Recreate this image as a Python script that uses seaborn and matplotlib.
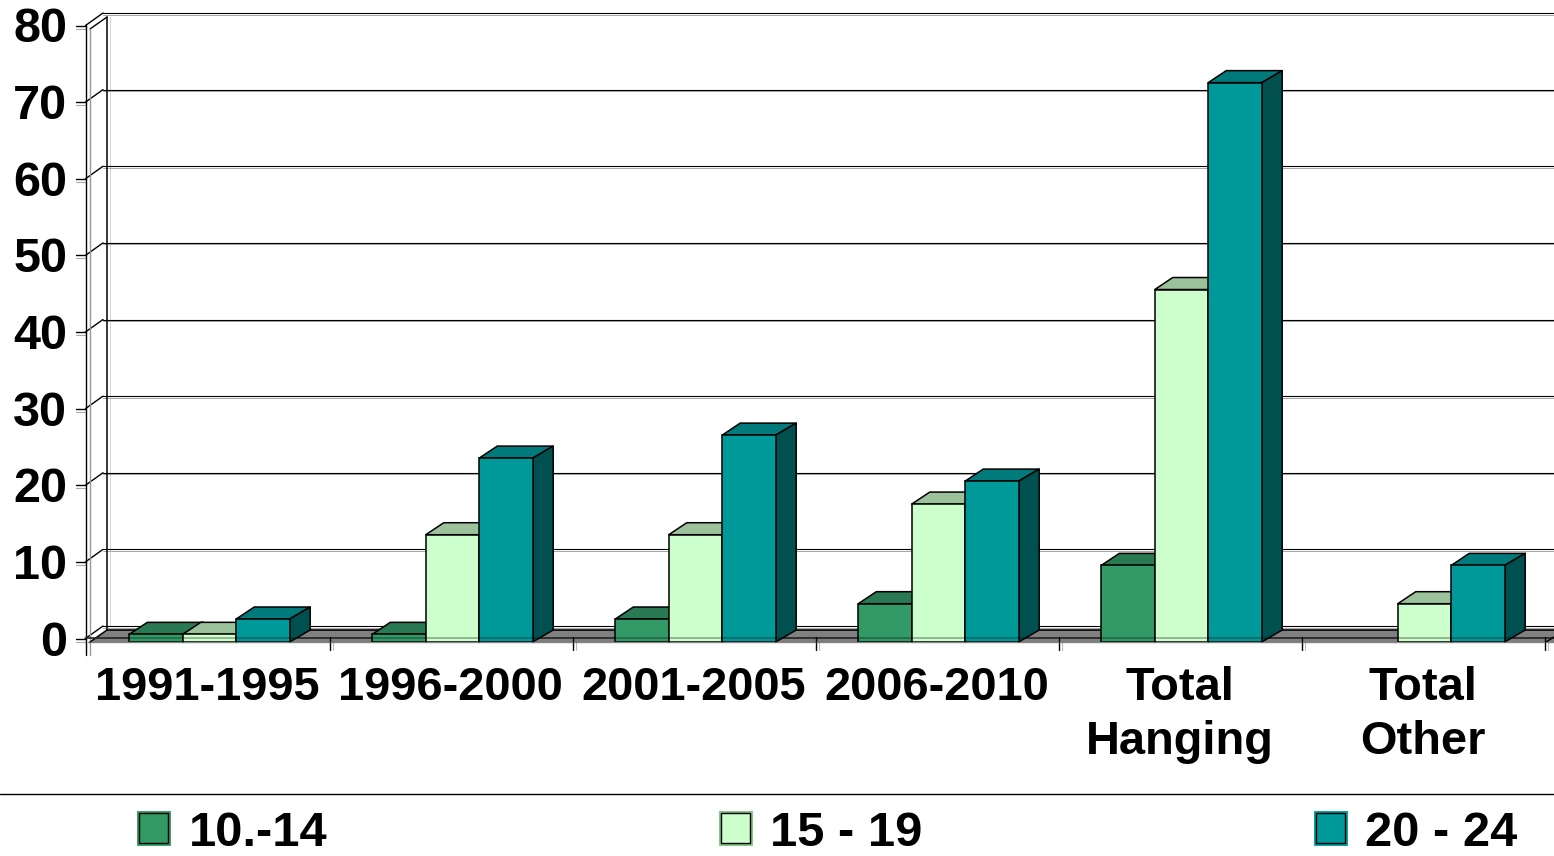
import matplotlib
matplotlib.use("Agg")
import matplotlib.pyplot as plt
import matplotlib.patheffects as pe
from matplotlib.lines import Line2D
from matplotlib.patches import Patch, Polygon
from matplotlib.transforms import IdentityTransform, ScaledTranslation
import pandas as pd
import seaborn as sns

categories = ["1991-1995", "1996-2000", "2001-2005", "2006-2010", "Total\nHanging", "Total\nOther"]
ages = ["10.-14", "15 - 19", "20 - 24"]
age_10_14 = [1, 1, 3, 5, 10, 0]
age_15_19 = [1, 14, 14, 18, 46, 5]
age_20_24 = [3, 24, 27, 21, 73, 10]
y_ticks = [0, 10, 20, 30, 40, 50, 60, 70, 80]
front_colors = ["#339966", "#CCFFCC", "#009999"]
top_colors = ["#297A52", "#9CC29C", "#007A7A"]
side_colors = ["#1F5C3D", "#7FA37F", "#005050"]

sns.set_theme(style="white")
plt.rcParams["font.family"] = ["Liberation Sans", "DejaVu Sans"]
plt.rcParams["font.weight"] = "bold"

W, H = 1554, 856
FS_X, FS_Y, FS_L = 33.8, 35, 35.2
df = pd.DataFrame({
    "period": categories * 3,
    "age": [a for a in ages for _ in categories],
    "value": age_10_14 + age_15_19 + age_20_24,
})

fig = plt.figure(figsize=(W / 100, H / 100), dpi=100, facecolor="white")
ax = fig.add_axes([88 / W, (H - 642) / H, 1458 / W, 613 / H])
sns.barplot(data=df, x="period", y="value", hue="age", hue_order=ages, order=categories,
            palette=front_colors, saturation=1, width=0.66, gap=0, dodge=True,
            edgecolor="black", linewidth=1.1, legend=False, ax=ax)
ax.set_xlim(-0.5, 5.5)
ax.set_ylim(0, 80)
ax.set_xlabel("")
ax.set_ylabel("")
ax.patch.set_alpha(0)
for s in ax.spines.values():
    s.set_visible(False)

ID = IdentityTransform()


def P(px, py):
    return (px, H - py)


def line(xs, ys, color="black", lw=1.0, z=1, alpha=1.0):
    ax.add_line(Line2D(xs, [H - y for y in ys], color=color, lw=lw, transform=ID,
                       clip_on=False, zorder=z, alpha=alpha))


def poly(points, face, edge="black", lw=1.1, z=1):
    ax.add_patch(Polygon(points, closed=True, facecolor=face, edgecolor=edge, lw=lw,
                         transform=ID, clip_on=False, zorder=z, joinstyle="round"))


# floor and walls
poly([P(90, 642), P(107, 630), P(1554, 630), P(1554, 642)], "#808080", edge="none", z=0.5)
line([107, 1554], [630, 630], "black", 1.2, 0.6)


def front_py(v):
    return H - ax.transData.transform((0, v))[1]


for v in y_ticks:
    py = front_py(v)
    back = py - 16
    line([103, 1554], [back, back], "black", 0.8, 0.7)
    line([103, 1554], [back + 1.5, back + 1.5], "#999999", 0.6, 0.65)
    line([85.5, 103], [py - 3.5, back], "black", 1.0, 0.7)
    line([76, 85.5], [py - 3.5, py - 3.5], "black", 1.0, 0.7)
    line([76, 85.5], [py - 0.5, py - 0.5], "#aaaaaa", 0.8, 0.65)

top = front_py(80)
line([107, 107], [top - 12, 630], "black", 1.1, 0.8)
line([110, 110], [top - 12, 626], "#cccccc", 0.6, 0.6)
line([90, 107], [top, top - 12], "black", 1.0, 0.8)
line([90, 90], [top, 655], "#999999", 1.0, 0.8)
line([85.5, 85.5], [top - 4, 655], "black", 1.0, 0.8)
line([90, 107], [642, 630], "black", 1.1, 0.8)
line([85, 1554], [638, 638], "#333333", 1.1, 0.9)

# category separators
for edge in range(1, 7):
    px = ax.transData.transform((edge - 0.5, 0))[0] - 1.5
    line([px, px], [637, 650], "black", 1.0, 0.9)
    line([px + 3, px + 3], [642, 650], "#bbbbbb", 0.8, 0.9)
line([1546, 1554], [642, 637], "black", 1.0, 0.9)

# 3D faces built from the drawn bars
DX_L, DX_R, DY = 18, 20.5, 12
n = len(categories)
for i, patch in enumerate(list(ax.patches)):
    if not isinstance(patch, matplotlib.patches.Rectangle):
        continue
    series = i // n
    x0, h = patch.get_x(), patch.get_height()
    x1 = x0 + patch.get_width()
    if h <= 0:
        patch.set_visible(False)
        continue
    (l, b), (r, t) = ax.transData.transform([(x0, 0), (x1, h)])
    z = 3 + series
    patch.set_zorder(z + 0.2)
    poly([(l, t), (l + DX_L, t + DY), (r + DX_R, t + DY), (r, t)], top_colors[series], z=z)
    poly([(r, b), (r + DX_R, b + DY), (r + DX_R, t + DY), (r, t)], side_colors[series], z=z + 0.1)

# darker floor band seen through the bars
line([88, 1554], [638, 638], "black", 1.3, 10, alpha=0.3)
line([88, 1554], [642, 642], "#555555", 1.0, 10, alpha=0.7)

# axis text
ax.set_yticks(y_ticks)
ax.set_yticklabels([str(v) for v in y_ticks], fontsize=FS_Y, fontweight="bold", color="black")
ax.set_xticks(range(n))
ax.set_xticklabels(categories, fontsize=FS_X, fontweight="bold", color="black", linespacing=1.3)
ax.tick_params(axis="both", length=0)
ax.tick_params(axis="y", pad=15)
ax.tick_params(axis="x", pad=17)
for lab in ax.get_yticklabels():
    lab.set_transform(lab.get_transform() + ScaledTranslation(0, 4 / 100, fig.dpi_scale_trans))
for lab in ax.get_xticklabels():
    lab.set_transform(lab.get_transform() + ScaledTranslation(-2 / 100, 0, fig.dpi_scale_trans))

# rule and legend
fig.add_artist(Line2D([0, 1], [(H - 794) / H] * 2, color="black", lw=1.0, transform=fig.transFigure))
handles = [
    Patch(facecolor=c, edgecolor="black", lw=1.0,
          path_effects=[pe.Stroke(linewidth=3.5, foreground=o), pe.Normal()], label=a)
    for c, o, a in zip(front_colors, ["#339966", "#7FC27F", "#009999"], ages)
]
fig.legend(handles=handles, ncols=3, loc="center left", bbox_to_anchor=(139 / W, (H - 833) / H),
           bbox_transform=fig.transFigure, frameon=False, borderpad=0, borderaxespad=0,
           prop={"size": FS_L, "weight": "bold"}, handlelength=0.6, handleheight=0.55,
           handletextpad=0.41, columnspacing=8.05, labelcolor="black")

fig.savefig("out.png", dpi=100, facecolor="white")
